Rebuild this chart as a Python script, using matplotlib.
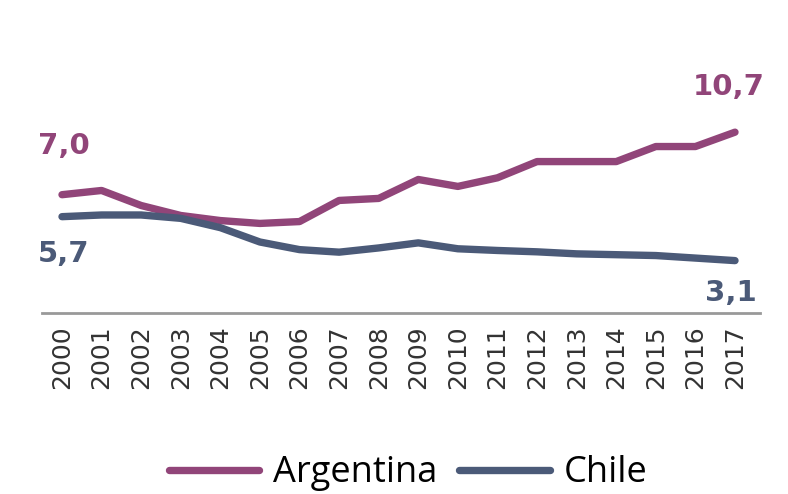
import matplotlib as mpl
mpl.use('Agg')

import matplotlib.pyplot as plt
import numpy as np

years = list(range(2000, 2018))
argentina = [7.0, 7.25, 6.36, 5.77, 5.47, 5.3, 5.41, 6.66, 6.78, 7.9,
             7.49, 8.0, 8.96, 8.96, 8.96, 9.85, 9.85, 10.7]
chile = [5.7, 5.8, 5.8, 5.6, 5.05, 4.2, 3.75, 3.6, 3.85, 4.15,
         3.8, 3.7, 3.62, 3.5, 3.45, 3.4, 3.25, 3.1]

purple = '#914579'
slate = '#4b5a78'

plt.rcParams['font.family'] = ['Open Sans', 'DejaVu Sans']

fig = plt.figure(figsize=(7.88, 4.94), dpi=100)
ax = fig.add_axes([42 / 788, 1 - 313 / 494, 718 / 788, 283 / 494])

ax.plot(years, argentina, color=purple, linewidth=5.3,
        solid_capstyle='round', solid_joinstyle='round', label='Argentina')
ax.plot(years, chile, color=slate, linewidth=5.3,
        solid_capstyle='round', solid_joinstyle='round', label='Chile')

ax.set_xlim(2000 - 20 / 39.59, 2017 + 25 / 39.59)
ax.set_ylim(0, 283 / 16.9)

for s in ['top', 'right', 'left']:
    ax.spines[s].set_visible(False)
ax.spines['bottom'].set_color('#999999')
ax.spines['bottom'].set_linewidth(2)
ax.set_yticks([])
ax.set_xticks(years)
ax.set_xticklabels([str(y) for y in years], rotation=90, fontsize=18,
                   color='#333333', family='DejaVu Sans')
ax.tick_params(axis='x', length=0, pad=9)

# End labels
lbl = dict(fontsize=21, fontweight='bold', family='DejaVu Sans')
ax.text(years[0] - 0.6, argentina[0] + 2.9, '7,0', color=purple, ha='left', va='center', **lbl)
ax.text(years[0] - 0.6, chile[0] - 2.2, '5,7', color=slate, ha='left', va='center', **lbl)
ax.text(years[-1] + 0.75, argentina[-1] + 2.7, '10,7', color=purple, ha='right', va='center', **lbl)
ax.text(years[-1] + 0.55, chile[-1] - 1.9, '3,1', color=slate, ha='right', va='center', **lbl)

fig.legend(loc='center', bbox_to_anchor=(0.518, 0.042), ncol=2,
           frameon=False, fontsize=26, handlelength=2.5, handletextpad=0.4,
           columnspacing=0.6)

fig.savefig('out.png', dpi=100)
